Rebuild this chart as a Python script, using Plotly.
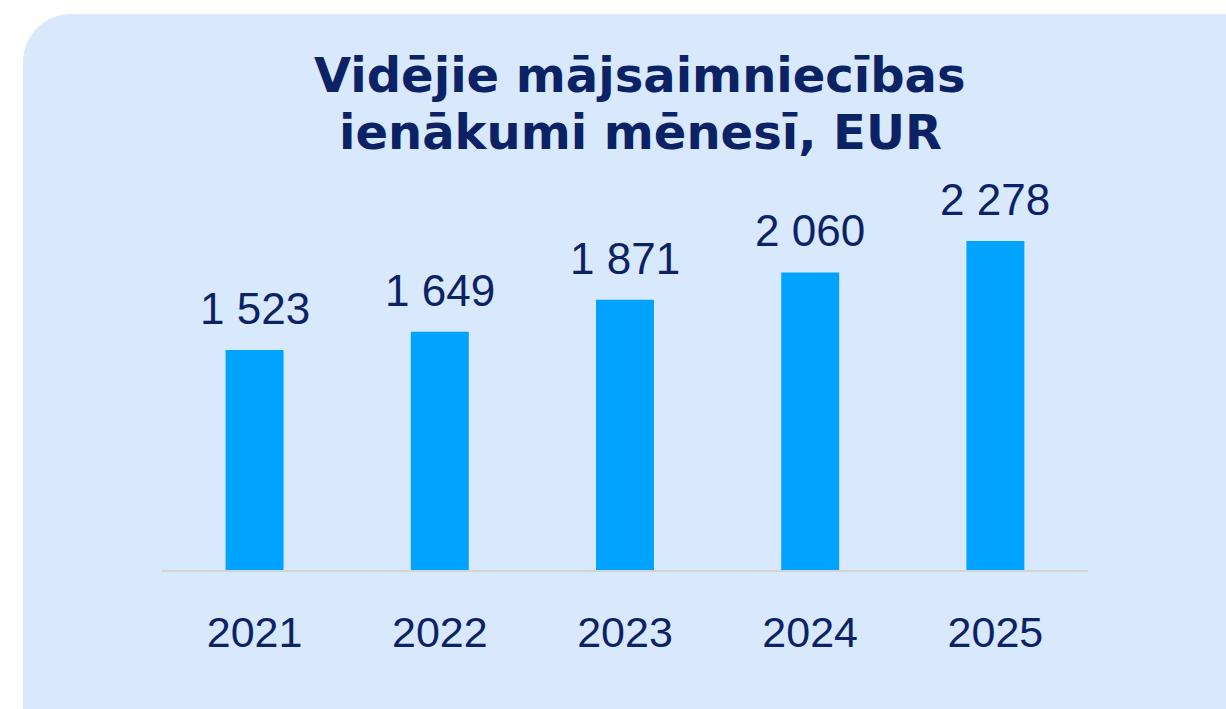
import plotly.graph_objects as go

years = ["2021", "2022", "2023", "2024", "2025"]
values = [1523, 1649, 1871, 2060, 2278]
labels = ["1 523", "1 649", "1 871", "2 060", "2 278"]
title_lines = ["Vidējie mājsaimniecības", "ienākumi mēnesī, EUR"]

W, H = 1226, 709
L, R, T, B = 162, 1088, 200, 570
pw, ph = R - L, B - T

def to_px(x):
    return (x - L) / pw

def to_py(y):
    return (B - y) / ph

navy = "#0b2265"
bar_col = "#00a3ff"
panel = "#d8e8fd"

pos = list(range(len(years)))

fig = go.Figure()
fig.add_trace(go.Bar(x=pos, y=values, width=0.313,
                     marker=dict(color=bar_col, line=dict(width=0)),
                     hoverinfo="skip"))

for p, v, lab in zip(pos, values, labels):
    fig.add_annotation(x=p, y=v, xref="x", yref="y", text=lab, showarrow=False,
                       xanchor="center", yanchor="bottom", yshift=15,
                       font=dict(family="Liberation Sans, Arial", size=44, color=navy))

for i, line in enumerate(title_lines):
    fig.add_annotation(x=to_px(640), y=to_py(45 + 57 * i), xref="paper", yref="paper",
                       text="<b>" + line + "</b>", showarrow=False,
                       xanchor="center", yanchor="top", align="center",
                       font=dict(family="DejaVu Sans", size=48, color=navy))

# rounded panel
x0, y0, r = 23, 14, 48
k = 0.5523 * r
x1, y1 = 1240, 730
path = (f"M {to_px(x0)},{to_py(y1)} L {to_px(x0)},{to_py(y0 + r)} "
        f"C {to_px(x0)},{to_py(y0 + r - k)} {to_px(x0 + r - k)},{to_py(y0)} {to_px(x0 + r)},{to_py(y0)} "
        f"L {to_px(x1)},{to_py(y0)} L {to_px(x1)},{to_py(y1)} Z")
fig.add_shape(type="path", path=path, xref="paper", yref="paper",
              fillcolor=panel, line=dict(width=0), layer="below")

fig.update_layout(
    width=W, height=H,
    margin=dict(l=L, r=W - R, t=T, b=H - B, pad=0),
    paper_bgcolor="white", plot_bgcolor="rgba(0,0,0,0)",
    showlegend=False,
    xaxis=dict(type="linear", range=[-0.5, len(years) - 0.5], tickmode="array",
               tickvals=pos, ticktext=years, autorange=False,
               showgrid=False, showline=True, linecolor="#d3d3d3",
               linewidth=2, ticks="outside", ticklen=23, tickcolor="rgba(0,0,0,0)",
               tickfont=dict(family="Liberation Sans, Arial", size=43, color=navy),
               zeroline=False),
    yaxis=dict(visible=False, range=[0, ph / (220 / 1523)], autorange=False,
               showgrid=False, zeroline=False),
)

fig.write_html("out.html", config={"displayModeBar": False},
               post_script="document.body.style.margin='0';")
